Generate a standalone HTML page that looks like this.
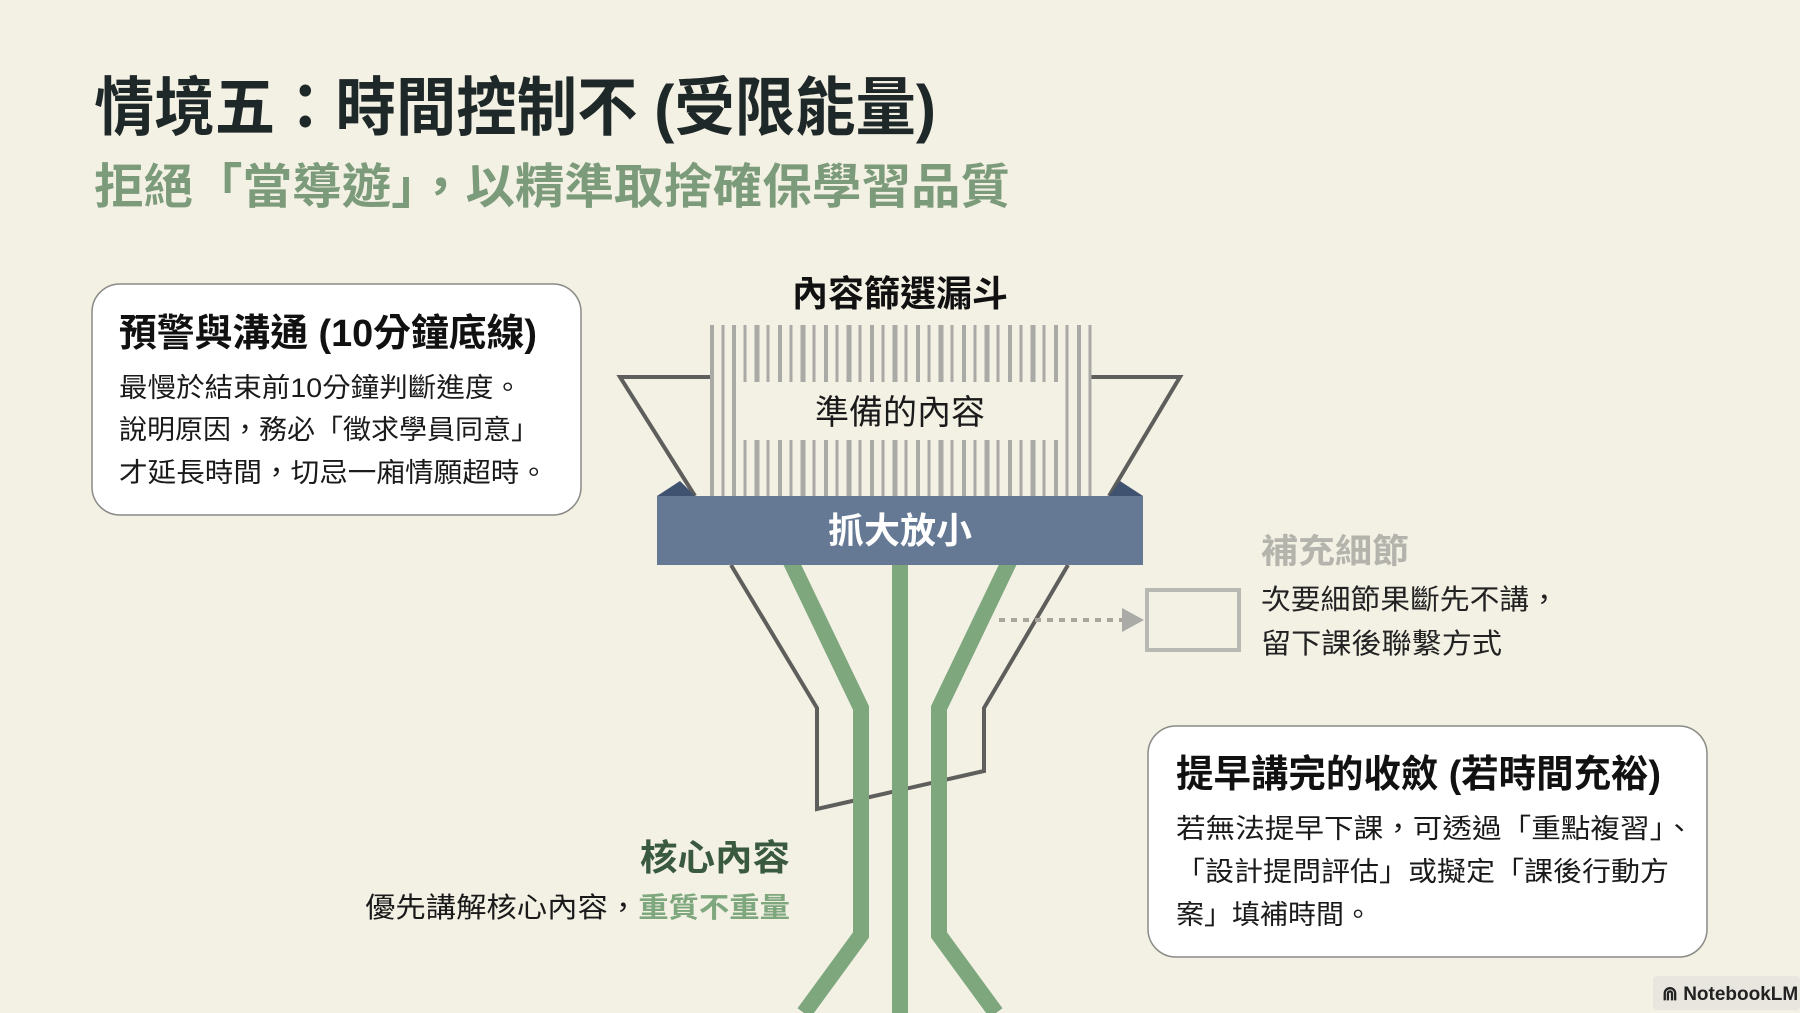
<!DOCTYPE html>
<html><head><meta charset="utf-8"><style>
html,body{margin:0;padding:0;background:#f3f0e4;}
svg{display:block;}
text{font-family:"Liberation Sans","Noto Sans CJK TC",sans-serif;}
</style></head><body>
<svg width="1800" height="1013" viewBox="0 0 1800 1013" xmlns="http://www.w3.org/2000/svg">
<rect width="1800" height="1013" fill="#f3f0e4"/>
<text x="94" y="130" font-size="64" font-weight="bold" fill="#1f2828" textLength="842" lengthAdjust="spacingAndGlyphs">情境五：時間控制不 (受限能量)</text>
<text x="94" y="203" font-size="48" font-weight="bold" fill="#7c9b7a" textLength="916" lengthAdjust="spacingAndGlyphs">拒絕「當導遊」，以精準取捨確保學習品質</text>

<rect x="92" y="284" width="489" height="231" rx="28" fill="#fff" stroke="#8a8a86" stroke-width="1.5"/>
<text x="119" y="346" font-size="38" font-weight="bold" fill="#111" textLength="418" lengthAdjust="spacingAndGlyphs">預警與溝通 (10分鐘底線)</text>
<text x="119" y="397" font-size="27" fill="#1a1a1a" textLength="403" lengthAdjust="spacingAndGlyphs">最慢於結束前10分鐘判斷進度。</text>
<text x="119" y="439" font-size="27" fill="#1a1a1a" textLength="420" lengthAdjust="spacingAndGlyphs">說明原因，務必「徵求學員同意」</text>
<text x="119" y="482" font-size="27" fill="#1a1a1a" textLength="429" lengthAdjust="spacingAndGlyphs">才延長時間，切忌一廂情願超時。</text>

<text x="900" y="306" font-size="36" font-weight="bold" fill="#111" text-anchor="middle">內容篩選漏斗</text>

<polyline points="712,377 620,377 695,496" fill="none" stroke="#5e5e5c" stroke-width="4"/>
<polyline points="1091,377 1180,377 1109,496" fill="none" stroke="#5e5e5c" stroke-width="4"/>
<g stroke="#a9a9a5">
<line x1="712" y1="325" x2="712" y2="497" stroke-width="4"/>
<line x1="723" y1="325" x2="723" y2="497" stroke-width="3"/>
<line x1="734" y1="325" x2="734" y2="497" stroke-width="4"/>
<line x1="745" y1="325" x2="745" y2="497" stroke-width="3"/>
<line x1="757" y1="325" x2="757" y2="497" stroke-width="5"/>
<line x1="768" y1="325" x2="768" y2="497" stroke-width="3"/>
<line x1="780" y1="325" x2="780" y2="497" stroke-width="4"/>
<line x1="791" y1="325" x2="791" y2="497" stroke-width="3"/>
<line x1="803" y1="325" x2="803" y2="497" stroke-width="5"/>
<line x1="814" y1="325" x2="814" y2="497" stroke-width="3"/>
<line x1="826" y1="325" x2="826" y2="497" stroke-width="4"/>
<line x1="837" y1="325" x2="837" y2="497" stroke-width="3"/>
<line x1="849" y1="325" x2="849" y2="497" stroke-width="5"/>
<line x1="860" y1="325" x2="860" y2="497" stroke-width="3"/>
<line x1="872" y1="325" x2="872" y2="497" stroke-width="4"/>
<line x1="883" y1="325" x2="883" y2="497" stroke-width="3"/>
<line x1="895" y1="325" x2="895" y2="497" stroke-width="5"/>
<line x1="906" y1="325" x2="906" y2="497" stroke-width="3"/>
<line x1="918" y1="325" x2="918" y2="497" stroke-width="4"/>
<line x1="929" y1="325" x2="929" y2="497" stroke-width="3"/>
<line x1="941" y1="325" x2="941" y2="497" stroke-width="5"/>
<line x1="952" y1="325" x2="952" y2="497" stroke-width="3"/>
<line x1="964" y1="325" x2="964" y2="497" stroke-width="4"/>
<line x1="975" y1="325" x2="975" y2="497" stroke-width="3"/>
<line x1="987" y1="325" x2="987" y2="497" stroke-width="5"/>
<line x1="998" y1="325" x2="998" y2="497" stroke-width="3"/>
<line x1="1010" y1="325" x2="1010" y2="497" stroke-width="4"/>
<line x1="1021" y1="325" x2="1021" y2="497" stroke-width="3"/>
<line x1="1033" y1="325" x2="1033" y2="497" stroke-width="5"/>
<line x1="1044" y1="325" x2="1044" y2="497" stroke-width="3"/>
<line x1="1056" y1="325" x2="1056" y2="497" stroke-width="4"/>
<line x1="1067" y1="325" x2="1067" y2="497" stroke-width="3"/>
<line x1="1079" y1="325" x2="1079" y2="497" stroke-width="4"/>
<line x1="1090" y1="325" x2="1090" y2="497" stroke-width="3"/>
</g>
<rect x="740" y="382" width="325" height="58" fill="#f3f0e4"/>
<text x="900" y="424" font-size="34" fill="#1a1a1a" text-anchor="middle">準備的內容</text>

<polyline points="731,565 817,708 817,809 984,771 984,708 1068,565" fill="none" stroke="#5e5e5c" stroke-width="4"/>
<g stroke="#7ea77e" stroke-width="16" fill="none" stroke-linejoin="miter">
<line x1="900" y1="560" x2="900" y2="1013"/>
<polyline points="790,560 861,708 861,935 804,1013"/>
<polyline points="1010,560 939,708 939,935 996,1013"/>
</g>
<polygon points="657,496 680,481 695,496" fill="#3f5270"/>
<polygon points="1143,496 1120,481 1109,496" fill="#3f5270"/>
<rect x="657" y="496" width="486" height="69" fill="#657994"/>
<text x="900" y="543" font-size="36" font-weight="bold" fill="#fff" text-anchor="middle">抓大放小</text>

<line x1="999" y1="620" x2="1122" y2="620" stroke="#aaa59c" stroke-width="4" stroke-dasharray="6,6"/>
<polygon points="1122,608 1144,620 1122,632" fill="#aaaaa6"/>
<rect x="1147" y="590" width="92" height="60" fill="none" stroke="#b9b9b3" stroke-width="4"/>
<text x="1261" y="563" font-size="34" font-weight="bold" fill="#b4b4ad" textLength="148" lengthAdjust="spacingAndGlyphs">補充細節</text>
<text x="1261" y="609" font-size="28" fill="#222" textLength="298" lengthAdjust="spacingAndGlyphs">次要細節果斷先不講，</text>
<text x="1261" y="653" font-size="28" fill="#222" textLength="241" lengthAdjust="spacingAndGlyphs">留下課後聯繫方式</text>

<rect x="1148" y="726" width="559" height="231" rx="28" fill="#fff" stroke="#8a8a86" stroke-width="1.5"/>
<text x="1176" y="787" font-size="38" font-weight="bold" fill="#111" textLength="485" lengthAdjust="spacingAndGlyphs">提早講完的收斂 (若時間充裕)</text>
<text x="1176" y="838" font-size="27" fill="#1a1a1a" textLength="518" lengthAdjust="spacingAndGlyphs">若無法提早下課，可透過「重點複習」、</text>
<text x="1176" y="881" font-size="27" fill="#1a1a1a" textLength="493" lengthAdjust="spacingAndGlyphs">「設計提問評估」或擬定「課後行動方</text>
<text x="1176" y="924" font-size="27" fill="#1a1a1a" textLength="196" lengthAdjust="spacingAndGlyphs">案」填補時間。</text>

<text x="640" y="870" font-size="36" font-weight="bold" fill="#3a5a40" textLength="150" lengthAdjust="spacingAndGlyphs">核心內容</text>
<text x="365" y="917" font-size="28" fill="#1a1a1a" textLength="425" lengthAdjust="spacingAndGlyphs">優先講解核心內容，<tspan fill="#7ea77e" font-weight="bold">重質不重量</tspan></text>

<rect x="1653" y="976" width="147" height="34" rx="4" fill="#e8e6de"/>
<text x="1662" y="1000" font-size="19" font-weight="bold" fill="#222">⋒ NotebookLM</text>
</svg>
</body></html>
